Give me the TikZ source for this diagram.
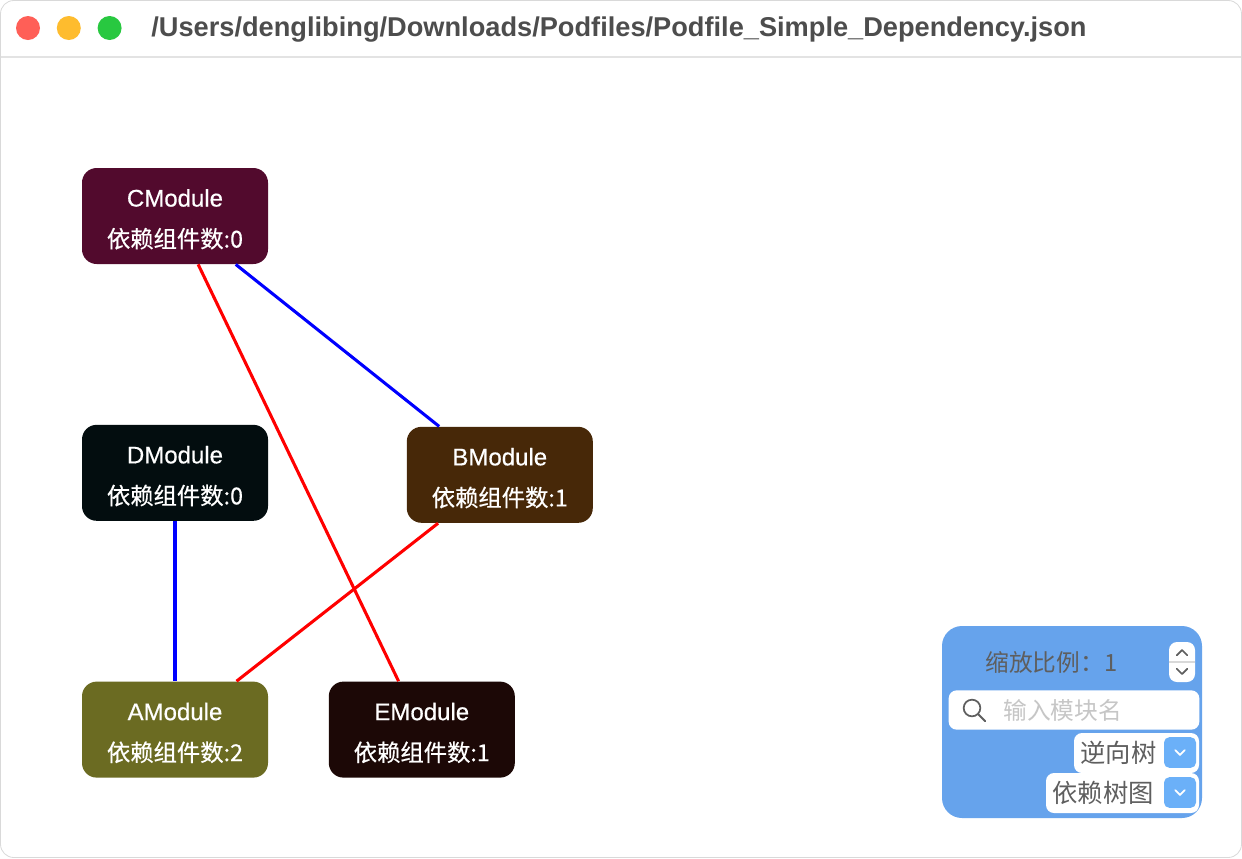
\documentclass[tikz,border=0pt]{standalone}
\usepackage{fontspec}
\setmainfont{Liberation Sans}
\newfontfamily\cjk{Noto Sans CJK SC}
\newfontfamily\modfont[FakeBold=0.5]{Liberation Sans}
\newfontfamily\cjkmod[FakeBold=0.5]{Noto Sans CJK SC}
\usetikzlibrary{positioning}

\definecolor{cmod}{HTML}{520A2D}
\definecolor{dmod}{HTML}{030D0F}
\definecolor{bmod}{HTML}{472808}
\definecolor{amod}{HTML}{6B6B22}
\definecolor{emod}{HTML}{1C0806}
\definecolor{panelblue}{HTML}{66A3EC}
\definecolor{btnblue}{HTML}{6BB0F8}
\definecolor{titlegray}{HTML}{4D4D4D}
\definecolor{hintgray}{HTML}{C6C6C6}
\definecolor{labelgray}{HTML}{5E5E5E}
\definecolor{closered}{HTML}{FF5F57}
\definecolor{minyellow}{HTML}{FEBC2E}
\definecolor{zoomgreen}{HTML}{28C840}

\newcommand{\modtext}[2]{\rule{0pt}{18pt}#1\\{\cjkmod\fontsize{17.5}{30.75}\selectfont 依赖组件数:#2}}

\begin{document}
\begin{tikzpicture}[x=0.75pt, y=-0.75pt, semithick, node distance=120pt]
\tikzstyle{module}=[rectangle, rounded corners=11pt, minimum width=139.5pt, minimum height=72pt, inner sep=0pt, text=white, align=center, font=\modfont\fontsize{18}{30.75}\selectfont]
\tikzstyle{dep}=[line width=2.3pt]
\tikzstyle{light}=[circle, minimum size=18pt, inner sep=0pt]
\tikzstyle{field}=[rectangle, fill=white, inner sep=0pt]
\tikzstyle{button}=[rectangle, fill=btnblue, rounded corners=4pt, minimum width=24pt, minimum height=23pt, inner sep=0pt]
\tikzstyle{chev}=[line width=1.3pt, line cap=round, line join=round]
\tikzstyle{paneltext}=[anchor=west, inner sep=0pt]

% window
\useasboundingbox (0,0) rectangle (1242,858);
\draw[black!15, fill=white, rounded corners=10pt] (0.5,0.5) rectangle (1241.5,857.5);
\draw[black!11, line width=1.5pt] (1,57) -- (1241,57);

\node[light, fill=closered]  (close)                  at (28,28) {};
\node[light, fill=minyellow] (minimize) [right=12pt of close]    {};
\node[light, fill=zoomgreen] (maximize) [right=12pt of minimize] {};
\node[anchor=west, inner sep=0pt, text=titlegray, font=\bfseries\fontsize{20.4}{22}\selectfont] (title) at (151,30)
  {/Users/denglibing/Downloads/Podfiles/Podfile\_Simple\_Dependency.json};

% modules
\node[module, fill=cmod] (C) at (175,216)          {\modtext{CModule}{0}};
\node[module, fill=dmod] (D) [below=of C]          {\modtext{DModule}{0}};
\node[module, fill=amod] (A) [below=of D]          {\modtext{AModule}{2}};
\node[module, fill=bmod] (B) [right=103.5pt of D, yshift=-1.5pt] {\modtext{BModule}{1}};
\node[module, fill=emod] (E) [right=45pt of A]     {\modtext{EModule}{1}};

\path[dep]
(C) edge[blue] (B)
(C) edge[red]  (E)
(D) edge[blue] (A)
(B) edge[red]  (A);

% control panel
\node[rectangle, fill=panelblue, rounded corners=15pt, minimum width=195pt, minimum height=144pt, inner sep=0pt] (panel) at (1072,722) {};
\node[paneltext, text=labelgray, font=\cjk\fontsize{17.8}{18}\selectfont] (scale) at (985,662) {缩放比例：1};
\node[field, rounded corners=6pt, minimum width=19.5pt, minimum height=30pt] (stepper) at (1182,662) {};
\draw[black!15, line width=0.8pt] (stepper.west) -- (stepper.east);
\draw[chev, labelgray] ([shift={(-4pt,5pt)}]stepper.center) -- ([shift={(0pt,9pt)}]stepper.center) -- ([shift={(4pt,5pt)}]stepper.center)
  ([shift={(-4pt,-5pt)}]stepper.center) -- ([shift={(0pt,-9pt)}]stepper.center) -- ([shift={(4pt,-5pt)}]stepper.center);

\node[field, rounded corners=6pt, minimum width=188pt, minimum height=29.5pt] (search) at (1074,710) {};
\node[circle, draw=labelgray, line width=1.3pt, minimum size=12.5pt, inner sep=0pt] (lens) at (972,708) {};
\draw[labelgray, line width=1.5pt, line cap=round] (lens.south east) -- ++(5pt,-5pt);
\node[paneltext, text=hintgray, font=\cjk\fontsize{17.8}{18}\selectfont] (hint) at (1003,710) {输入模块名};

\node[field, rounded corners=6pt, minimum width=93.75pt, minimum height=30pt] (reverse) at (1136.5,753) {};
\node[paneltext, text=labelgray, font=\cjk\fontsize{19}{20}\selectfont] (reversetext) at (1080,753) {逆向树};
\node[button] (reversebtn) at (1180,752.5) {};
\draw[chev, white] ([shift={(-3.5pt,1.8pt)}]reversebtn.center) -- ([shift={(0pt,-1.8pt)}]reversebtn.center) -- ([shift={(3.5pt,1.8pt)}]reversebtn.center);

\node[field, rounded corners=6pt, minimum width=114.75pt, minimum height=30pt] (mode) at (1122.5,793) {};
\node[paneltext, text=labelgray, font=\cjk\fontsize{19}{20}\selectfont] (modetext) at (1052,793) {依赖树图};
\node[button] (modebtn) at (1180,792.5) {};
\draw[chev, white] ([shift={(-3.5pt,1.8pt)}]modebtn.center) -- ([shift={(0pt,-1.8pt)}]modebtn.center) -- ([shift={(3.5pt,1.8pt)}]modebtn.center);

\end{tikzpicture}
\end{document}
